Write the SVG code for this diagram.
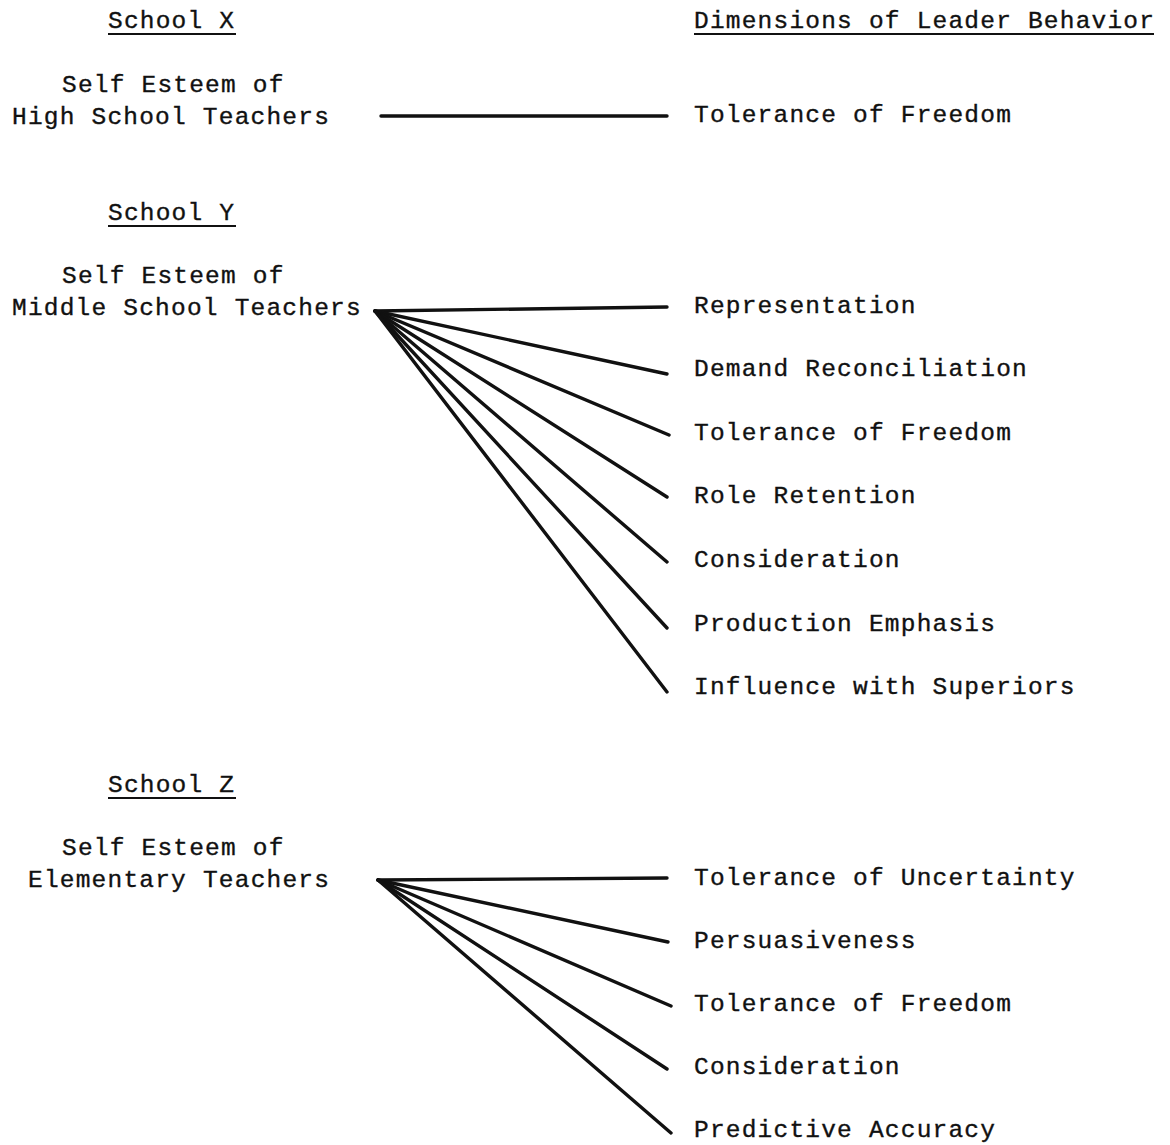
<svg xmlns="http://www.w3.org/2000/svg" width="1170" height="1145" viewBox="0 0 1170 1145">
<style>
text { font-family: "Liberation Mono", "DejaVu Sans Mono", monospace; font-size: 24.5px; letter-spacing: 1.2px; fill: #111; stroke: #111; stroke-width: 0.35px; }
.ul { stroke: #111; stroke-width: 2; }
.conn line { stroke: #111; stroke-width: 3.4; stroke-linecap: round; }
</style>
<rect width="1170" height="1145" fill="#fff"/>
<g id="header-dimensions">
<text x="694" y="28">Dimensions of Leader Behavior</text>
<line class="ul" x1="694" y1="34" x2="1154" y2="34"/>
</g>
<g id="school-x">
<text x="108" y="28">School X</text>
<line class="ul" x1="108" y1="34" x2="236" y2="34"/>
<text x="62" y="92">Self Esteem of</text>
<text x="12" y="124">High School Teachers</text>
</g>
<g id="x-tolerance-freedom"><text x="694" y="122">Tolerance of Freedom</text></g>
<g id="school-y">
<text x="108" y="220">School Y</text>
<line class="ul" x1="108" y1="226" x2="236" y2="226"/>
<text x="62" y="283">Self Esteem of</text>
<text x="12" y="315">Middle School Teachers</text>
</g>
<g id="y-representation"><text x="694" y="313">Representation</text></g>
<g id="y-demand"><text x="694" y="376">Demand Reconciliation</text></g>
<g id="y-tolerance-freedom"><text x="694" y="440">Tolerance of Freedom</text></g>
<g id="y-role"><text x="694" y="503">Role Retention</text></g>
<g id="y-consideration"><text x="694" y="567">Consideration</text></g>
<g id="y-production"><text x="694" y="631">Production Emphasis</text></g>
<g id="y-influence"><text x="694" y="694">Influence with Superiors</text></g>
<g id="school-z">
<text x="108" y="792">School Z</text>
<line class="ul" x1="108" y1="798" x2="236" y2="798"/>
<text x="62" y="855">Self Esteem of</text>
<text x="28" y="887">Elementary Teachers</text>
</g>
<g id="z-uncertainty"><text x="694" y="885">Tolerance of Uncertainty</text></g>
<g id="z-persuasiveness"><text x="694" y="948">Persuasiveness</text></g>
<g id="z-tolerance-freedom"><text x="694" y="1011">Tolerance of Freedom</text></g>
<g id="z-consideration"><text x="694" y="1074">Consideration</text></g>
<g id="z-predictive"><text x="694" y="1137">Predictive Accuracy</text></g>
<g id="connectors" class="conn">
<line x1="381" y1="116" x2="667" y2="116"/>
<line x1="375" y1="311" x2="667" y2="307"/>
<line x1="375" y1="311" x2="667" y2="374"/>
<line x1="375" y1="311" x2="669" y2="435"/>
<line x1="375" y1="311" x2="667" y2="497"/>
<line x1="375" y1="311" x2="667" y2="562"/>
<line x1="375" y1="311" x2="667" y2="628"/>
<line x1="375" y1="311" x2="667" y2="692"/>
<line x1="378" y1="880" x2="667" y2="878"/>
<line x1="378" y1="880" x2="668" y2="942"/>
<line x1="378" y1="880" x2="671" y2="1006"/>
<line x1="378" y1="880" x2="667" y2="1069"/>
<line x1="378" y1="880" x2="671" y2="1133"/>
</g>
</svg>
